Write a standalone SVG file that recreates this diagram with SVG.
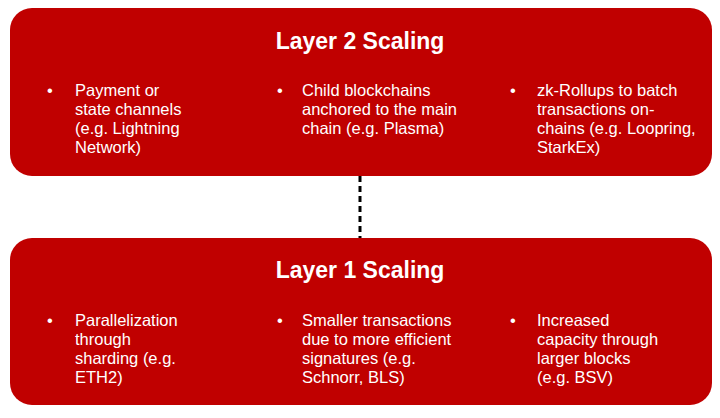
<svg xmlns="http://www.w3.org/2000/svg" width="720" height="418" viewBox="0 0 720 418">
<style>
.box{fill:#C00000;}
.t{font-family:"Liberation Sans",Arial,sans-serif;fill:#fff;}
.h{font-size:23px;font-weight:bold;text-anchor:middle;}
.b{font-size:16.5px;}
</style>
<rect width="720" height="418" fill="#fff"/>
<g id="connectors"><line x1="360" y1="176" x2="360" y2="238" stroke="#000" stroke-width="3" stroke-dasharray="6,4"/></g>
<g id="layer2">
<rect class="box" x="10" y="8" width="702" height="168" rx="22"/>
<text class="t h" x="360" y="49">Layer 2 Scaling</text>
<text class="t b"><tspan x="47" y="96">•</tspan><tspan x="75" y="96">Payment or</tspan><tspan x="75" y="115">state channels</tspan><tspan x="75" y="134">(e.g. Lightning</tspan><tspan x="75" y="153">Network)</tspan></text>
<text class="t b"><tspan x="277" y="96">•</tspan><tspan x="302" y="96">Child blockchains</tspan><tspan x="302" y="115">anchored to the main</tspan><tspan x="302" y="134">chain (e.g. Plasma)</tspan></text>
<text class="t b"><tspan x="510" y="96">•</tspan><tspan x="537" y="96">zk-Rollups to batch</tspan><tspan x="537" y="115">transactions on-</tspan><tspan x="537" y="134">chains (e.g. Loopring,</tspan><tspan x="537" y="153">StarkEx)</tspan></text>
</g>
<g id="layer1">
<rect class="box" x="10" y="238" width="702" height="167" rx="22"/>
<text class="t h" x="360" y="278">Layer 1 Scaling</text>
<text class="t b"><tspan x="47" y="326">•</tspan><tspan x="75" y="326">Parallelization</tspan><tspan x="75" y="345">through</tspan><tspan x="75" y="364">sharding (e.g.</tspan><tspan x="75" y="383">ETH2)</tspan></text>
<text class="t b"><tspan x="277" y="326">•</tspan><tspan x="302" y="326">Smaller transactions</tspan><tspan x="302" y="345">due to more efficient</tspan><tspan x="302" y="364">signatures (e.g.</tspan><tspan x="302" y="383">Schnorr, BLS)</tspan></text>
<text class="t b"><tspan x="510" y="326">•</tspan><tspan x="537" y="326">Increased</tspan><tspan x="537" y="345">capacity through</tspan><tspan x="537" y="364">larger blocks</tspan><tspan x="537" y="383">(e.g. BSV)</tspan></text>
</g>
</svg>
